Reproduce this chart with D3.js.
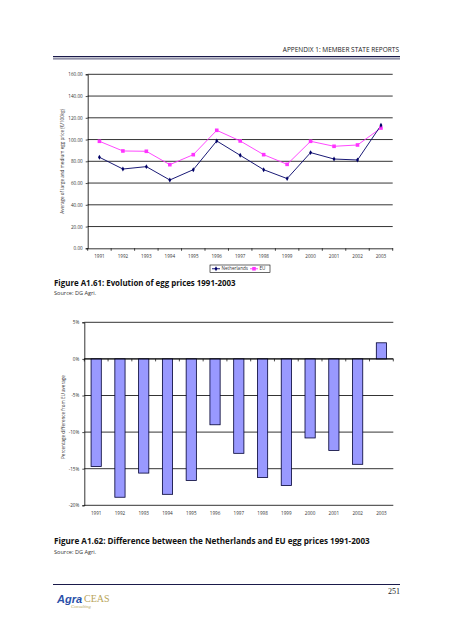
<!DOCTYPE html>
<html><head><meta charset="utf-8">
<script src="https://cdn.jsdelivr.net/npm/d3@7"></script>
<style>body{margin:0;background:#fff}svg{display:block}</style>
</head><body>
<script>
const years = ["1991","1992","1993","1994","1995","1996","1997","1998","1999","2000","2001","2002","2003"];
const nlPrices = [83.7,72.9,75.1,62.8,72.3,98.7,85.5,72.3,64.1,88.0,82.1,81.2,113.1];
const euPrices = [98.4,89.5,89.2,76.9,86.1,108.5,98.7,86.1,77.2,98.4,93.8,95.0,110.6];
const pctDiff = [-14.7,-18.9,-15.6,-18.5,-16.6,-9.0,-12.9,-16.2,-17.3,-10.8,-12.5,-14.4,2.2];
const priceTicks = [0,20,40,60,80,100,120,140,160];
const pctTicks = [5,0,-5,-10,-15,-20];

const W=453,H=640;
const svg=d3.select("body").append("svg").attr("width",W).attr("height",H);
const font="'Open Sans', Lato, sans-serif";

// header
svg.append("text").attr("x",399).attr("y",52).attr("text-anchor","end")
  .attr("font-family",font).attr("font-size",6.5).attr("fill","#222")
  .text("APPENDIX 1: MEMBER STATE REPORTS");
svg.append("line").attr("x1",53).attr("x2",400).attr("y1",56.6).attr("y2",56.6).attr("stroke","#1a1a4a").attr("stroke-width",1.4);
svg.append("line").attr("x1",53).attr("x2",400).attr("y1",58.9).attr("y2",58.9).attr("stroke","#1a1a4a").attr("stroke-width",0.8);

// ---------- Chart 1 ----------
const c1={l:87.7,r:392.7,t:74.3,b:248.3};
const x1=d3.scaleBand().domain(years).range([c1.l,c1.r]);
const y1=d3.scaleLinear().domain([0,160]).range([c1.b,c1.t]);
const g1=svg.append("g");
g1.append("g").selectAll("line").data(priceTicks.filter(d=>d>0)).join("line")
  .attr("x1",c1.l).attr("x2",c1.r).attr("y1",d=>y1(d)).attr("y2",d=>y1(d))
  .attr("stroke","#000").attr("stroke-width",0.8);
const ya1=g1.append("g").attr("transform",`translate(${c1.l},0)`)
  .call(d3.axisLeft(y1).tickValues(priceTicks).tickFormat(d3.format(".2f")).tickSize(2).tickPadding(3));
const xa1=g1.append("g").attr("transform",`translate(0,${c1.b})`)
  .call(d3.axisBottom(x1).tickSize(0).tickPadding(6));
g1.append("g").selectAll("line").data(d3.range(years.length+1)).join("line")
  .attr("x1",i=>c1.l+i*x1.step()).attr("x2",i=>c1.l+i*x1.step())
  .attr("y1",c1.b).attr("y2",c1.b+2.5).attr("stroke","#000").attr("stroke-width",0.7);
[ya1,xa1].forEach(a=>{a.select(".domain").attr("stroke","#000").attr("stroke-width",0.8);
  a.selectAll("text").attr("font-family",font).attr("font-size",4.6).attr("fill","#333");
  a.selectAll(".tick line").attr("stroke","#000").attr("stroke-width",0.7);});
g1.append("text").attr("transform",`translate(64,${(c1.t+c1.b)/2}) rotate(-90)`)
  .attr("text-anchor","middle").attr("font-family",font).attr("font-size",4.6).attr("fill","#333")
  .text("Average of large and medium egg price (€/100kg)");
const line1=d3.line().x((d,i)=>x1(years[i])+x1.bandwidth()/2).y(d=>y1(d));
g1.append("path").datum(euPrices).attr("d",line1).attr("fill","none").attr("stroke","#ff33ff").attr("stroke-width",0.9);
g1.append("path").datum(nlPrices).attr("d",line1).attr("fill","none").attr("stroke","#000066").attr("stroke-width",0.9);
g1.append("g").selectAll("rect").data(euPrices).join("rect")
  .attr("x",(d,i)=>x1(years[i])+x1.bandwidth()/2-1.8).attr("y",d=>y1(d)-1.8)
  .attr("width",3.6).attr("height",3.6).attr("fill","#ff33ff");
const diamond=d3.symbol().type(d3.symbolDiamond).size(7);
g1.append("g").selectAll("path").data(nlPrices).join("path")
  .attr("transform",(d,i)=>`translate(${x1(years[i])+x1.bandwidth()/2},${y1(d)})`)
  .attr("d",diamond).attr("fill","#000066");
// legend
const lg=svg.append("g").attr("transform","translate(210,265)");
lg.append("rect").attr("width",60).attr("height",7.5).attr("fill","#fff").attr("stroke","#000").attr("stroke-width",0.6);
lg.append("line").attr("x1",2).attr("x2",10).attr("y1",3.75).attr("y2",3.75).attr("stroke","#000066").attr("stroke-width",0.9);
lg.append("path").attr("transform","translate(6,3.75)").attr("d",diamond).attr("fill","#000066");
lg.append("text").attr("x",11.5).attr("y",5.4).attr("font-family",font).attr("font-size",4.6).attr("fill","#333").text("Netherlands");
lg.append("line").attr("x1",40).attr("x2",48).attr("y1",3.75).attr("y2",3.75).attr("stroke","#ff33ff").attr("stroke-width",0.9);
lg.append("rect").attr("x",42.2).attr("y",1.95).attr("width",3.6).attr("height",3.6).attr("fill","#ff33ff");
lg.append("text").attr("x",49.5).attr("y",5.4).attr("font-family",font).attr("font-size",4.6).attr("fill","#333").text("EU");
// caption
svg.append("text").attr("x",54).attr("y",285.5).attr("font-family",font).attr("font-weight","bold").attr("font-size",7.9).attr("fill","#111")
  .text("Figure A1.61: Evolution of egg prices 1991-2003");
svg.append("text").attr("x",54).attr("y",295).attr("font-family",font).attr("font-size",5.6).attr("fill","#333").text("Source: DG Agri.");

// ---------- Chart 2 ----------
const c2={l:84.3,r:393.3,t:322.3,b:505.3};
const x2=d3.scaleBand().domain(years).range([c2.l,c2.r]).paddingInner(0.57).paddingOuter(0.285);
const xs2=d3.scaleBand().domain(years).range([c2.l,c2.r]);
const y2=d3.scaleLinear().domain([-20,5]).range([c2.b,c2.t]);
const g2=svg.append("g");
g2.append("g").selectAll("line").data(pctTicks).join("line")
  .attr("x1",c2.l).attr("x2",c2.r).attr("y1",d=>y2(d)).attr("y2",d=>y2(d))
  .attr("stroke","#000").attr("stroke-width",0.8);
const ya2=g2.append("g").attr("transform",`translate(${c2.l},0)`)
  .call(d3.axisLeft(y2).tickValues(pctTicks).tickFormat(d=>d+"%").tickSize(2).tickPadding(3));
ya2.select(".domain").attr("stroke","#000").attr("stroke-width",0.8);
ya2.selectAll("text").attr("font-family",font).attr("font-size",4.6).attr("fill","#333");
ya2.selectAll(".tick line").attr("stroke","#000").attr("stroke-width",0.7);
g2.append("g").selectAll("rect").data(pctDiff).join("rect")
  .attr("x",(d,i)=>x2(years[i])).attr("width",x2.bandwidth())
  .attr("y",d=>y2(Math.max(0,d))).attr("height",d=>Math.abs(y2(d)-y2(0)))
  .attr("fill","#9999ff").attr("stroke","#000033").attr("stroke-width",0.8);
g2.append("line").attr("x1",c2.l).attr("x2",c2.r).attr("y1",y2(0)).attr("y2",y2(0)).attr("stroke","#000").attr("stroke-width",0.9);
g2.append("g").selectAll("line").data(d3.range(years.length+1)).join("line")
  .attr("x1",i=>c2.l+i*xs2.step()).attr("x2",i=>c2.l+i*xs2.step())
  .attr("y1",y2(0)).attr("y2",y2(0)+2.5).attr("stroke","#000").attr("stroke-width",0.7);
g2.append("g").selectAll("text").data(years).join("text")
  .attr("x",d=>xs2(d)+xs2.bandwidth()/2).attr("y",c2.b+9.5).attr("text-anchor","middle")
  .attr("font-family",font).attr("font-size",4.6).attr("fill","#333").text(d=>d);
g2.append("text").attr("transform",`translate(64.5,${417}) rotate(-90)`)
  .attr("text-anchor","middle").attr("font-family",font).attr("font-size",4.6).attr("fill","#333")
  .text("Percentage difference from EU average");
svg.append("text").attr("x",54).attr("y",543.5).attr("font-family",font).attr("font-weight","bold").attr("font-size",8.1).attr("fill","#111")
  .text("Figure A1.62: Difference between the Netherlands and EU egg prices 1991-2003");
svg.append("text").attr("x",54).attr("y",554).attr("font-family",font).attr("font-size",5.6).attr("fill","#333").text("Source: DG Agri.");

// footer
svg.append("line").attr("x1",53).attr("x2",400).attr("y1",584.5).attr("y2",584.5).attr("stroke","#1a1a4a").attr("stroke-width",1);
svg.append("text").attr("x",400).attr("y",593.5).attr("text-anchor","end").attr("font-family","'Liberation Serif', serif").attr("font-size",8).attr("fill","#222").text("251");
svg.append("text").attr("x",57).attr("y",603).attr("font-family","'Liberation Sans Narrow', 'Liberation Sans', sans-serif").attr("font-weight","bold").attr("font-style","italic").attr("font-size",11).attr("fill","#2a4fa8").text("Agra");
svg.append("text").attr("x",84).attr("y",602).attr("font-family","'Liberation Serif', serif").attr("font-size",10).attr("fill","#b8a55a").text("CEAS");
svg.append("text").attr("x",71).attr("y",607.5).attr("font-family","'Liberation Serif', serif").attr("font-style","italic").attr("font-size",4.5).attr("fill","#b8a55a").text("Consulting");
</script>
</body></html>
